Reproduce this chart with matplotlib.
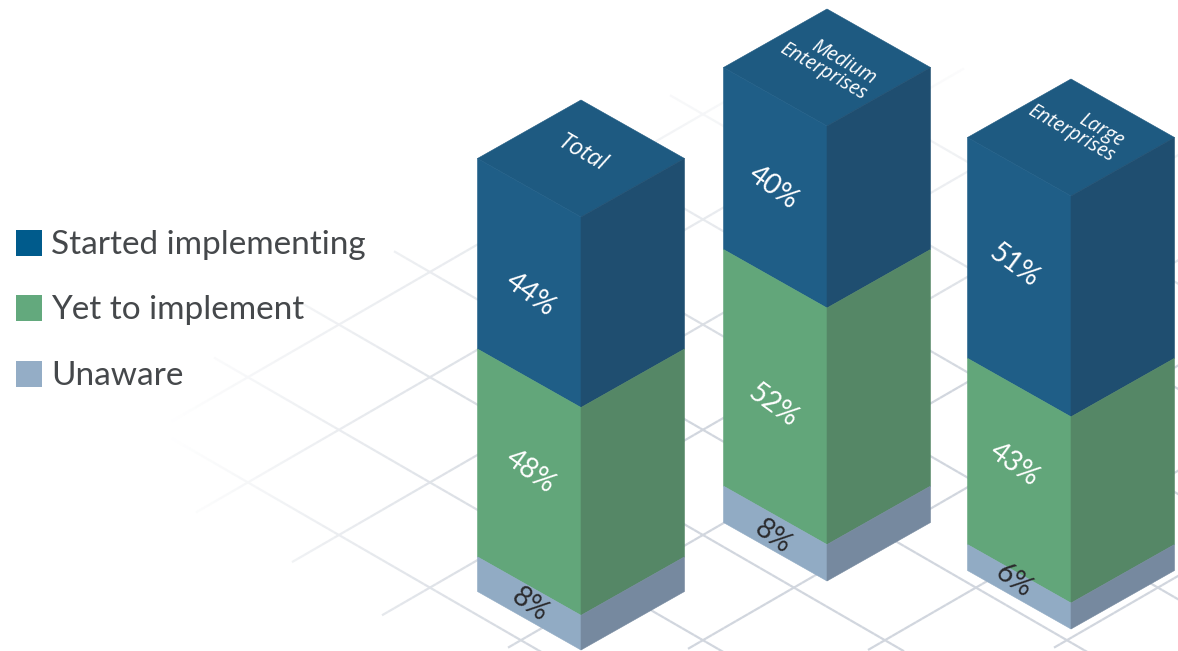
import numpy as np
import matplotlib
matplotlib.use('Agg')
import matplotlib.pyplot as plt
from matplotlib.collections import LineCollection
from matplotlib.patches import Polygon, Rectangle

# survey shares per company group, top segment first
groups = ['Total', 'Medium\nEnterprises', 'Large\nEnterprises']
started = [44, 40, 51]
yet_to = [48, 52, 43]
unaware = [8, 8, 6]
series_names = ['Started implementing', 'Yet to implement', 'Unaware']

W, H = 1178, 651

# column layout: centre x, y of the front bottom corner, pixels for 100%
col_x = [581, 827, 1071]
col_base = [650, 581, 629]
col_span = [433, 455, 433]
half_w = 103.5
drop = 58.5

# face colours per series: legend, left, right
legend_cols = ['#005b8c', '#63a97d', '#94adc6']
left_cols = ['#1f5e87', '#62a67a', '#91abc4']
right_cols = ['#1f4e70', '#558766', '#76899f']
top_col = '#1e5a81'
label_cols = ['white', 'white', '#2b2b2d']

# small nudges so each percentage sits where it reads best
label_nudge = [[12, -11, 1], [0, 8, 3], [-12, -16, -6]]
label_dx = [-51, -54, -57]
# group name centres relative to the apex, and their sizes
name_dx = [1, 1, 5]
name_dy = [54, 55, 47]
name_size = [17, 14.2, 14.2]


def shade(x, y):
    # grid fades out towards the upper left
    a = np.clip((x - 170) / 380, 0, 1) * np.clip((y - 40) / 350, 0, 1)
    base = np.array([0.82, 0.84, 0.87])
    return 1 - (1 - base) * a


def draw_grid(ax):
    slope = 52.6 / 91
    step = 105.2
    segs, cols = [], []
    xs = np.arange(100, W + 8, 6.0)
    for k in range(0, 12):
        # rising lines, cut off along the lower left edge and near the top
        c = 520.5 + k * step
        for x0, x1 in zip(xs[:-1], xs[1:]):
            y0, y1 = c - slope * x0, c - slope * x1
            if y0 - slope * x0 > 400 or y1 < 68 or y0 > H:
                continue
            if x0 > 960 and y0 < 130:
                continue
            segs.append([(x0, y0), (x1, y1)])
            cols.append(shade((x0 + x1) / 2, (y0 + y1) / 2))
    for k in range(-4, 4):
        # falling lines, they start on a rising diagonal
        d = 23.5 + k * step
        for x0, x1 in zip(xs[:-1], xs[1:]):
            y0, y1 = d + slope * x0, d + slope * x1
            if y0 + slope * x0 < 478 or y1 < 0 or y0 > H:
                continue
            segs.append([(x0, y0), (x1, y1)])
            cols.append(shade((x0 + x1) / 2, (y0 + y1) / 2))
    ax.add_collection(LineCollection(segs, colors=cols, linewidths=1.6, capstyle='butt', zorder=1))


def draw_column(ax, i, values):
    cx = col_x[i]
    per_pct = col_span[i] / sum(values)
    y = col_base[i] - col_span[i]
    # top diamond
    ax.add_patch(Polygon([(cx, y), (cx - half_w, y - drop), (cx, y - 2 * drop), (cx + half_w, y - drop)],
                         fc=top_col, ec=top_col, lw=0.4, zorder=3))
    for s, v in enumerate(values):
        y2 = y + v * per_pct
        ax.add_patch(Polygon([(cx - half_w, y - drop), (cx, y), (cx, y2), (cx - half_w, y2 - drop)],
                             fc=left_cols[s], ec=left_cols[s], lw=0.4, zorder=3))
        ax.add_patch(Polygon([(cx, y), (cx + half_w, y - drop), (cx + half_w, y2 - drop), (cx, y2)],
                             fc=right_cols[s], ec=right_cols[s], lw=0.4, zorder=3))
        ly = (y + y2) / 2 - drop / 2 + label_nudge[i][s]
        ax.text(cx + label_dx[i], ly, f'{v}%', color=label_cols[s], fontsize=20, family='Lato',
                rotation=-36, rotation_mode='anchor', ha='center', va='center', zorder=4)
        y = y2


fig = plt.figure(figsize=(W / 100, H / 100), dpi=100)
ax = fig.add_axes([0, 0, 1, 1])
ax.set_xlim(0, W)
ax.set_ylim(H, 0)
ax.axis('off')

draw_grid(ax)

for i in range(len(groups)):
    draw_column(ax, i, [started[i], yet_to[i], unaware[i]])
    apex = col_base[i] - col_span[i] - 2 * drop
    # group name lies on the top face
    ax.text(col_x[i] + name_dx[i], apex + name_dy[i], groups[i], color='white', fontsize=name_size[i],
            family='Open Sans', style='italic', rotation=-30, rotation_mode='anchor',
            ha='center', va='center', multialignment='right', linespacing=0.9, zorder=4)

# legend on the left
for name, col, top in zip(series_names, legend_cols, [230, 295, 361]):
    ax.add_patch(Rectangle((16, top), 26, 26, fc=col, ec='none', zorder=3))
    ax.text(51, top + 15, name, color='#45484b', fontsize=24, family='Lato',
            va='center', ha='left', zorder=3)

fig.savefig('out.png', dpi=100)
